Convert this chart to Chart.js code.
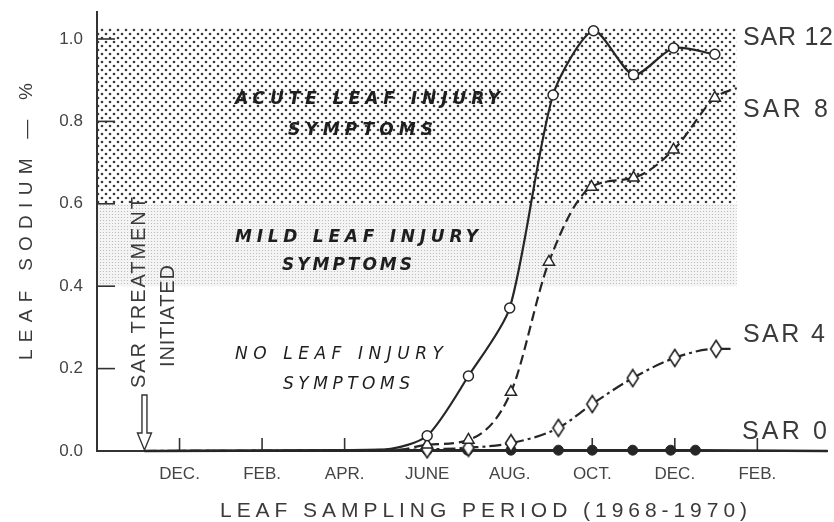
<!DOCTYPE html>
<html>
<head>
<meta charset="utf-8">
<script src="https://cdn.jsdelivr.net/npm/chart.js@4.4.1/dist/chart.umd.min.js"></script>
<style>
  html, body { margin: 0; padding: 0; background: #fff; }
  #wrap { width: 834px; height: 522px; position: relative; }
</style>
</head>
<body>
<div id="wrap"><canvas id="leafChart"></canvas></div>
<script>
// x = months counted from Dec. 1968 (0 = DEC., 12 = DEC. 1969)
var tickLabels = ['DEC.', 'FEB.', 'APR.', 'JUNE', 'AUG.', 'OCT.', 'DEC.', 'FEB.'];
var treatStart = -0.85;   // SAR treatment initiated

var sar12Months = [treatStart, 5, 6, 7, 8, 9.05, 10.03, 11, 11.97, 12.97];
var sar12Values = [0, 0.004, 0.037, 0.182, 0.347, 0.864, 1.02, 0.913, 0.978, 0.963];

var sar8Months = [treatStart, 5.3, 6, 7, 8.03, 8.95, 9.98, 11, 11.97, 12.97, 13.5];
var sar8Values = [0, 0.003, 0.015, 0.027, 0.143, 0.459, 0.641, 0.663, 0.731, 0.857, 0.881];

var sar4Months = [treatStart, 6, 7, 8.03, 9.18, 10, 10.98, 12, 13, 13.4];
var sar4Values = [0, 0.004, 0.008, 0.019, 0.056, 0.114, 0.177, 0.226, 0.248, 0.248];

var sar0Months = [treatStart, 6, 6.98, 8.03, 9.18, 10, 10.98, 11.9, 12.5, 15.7];
var sar0Values = [0, 0.002, 0.002, 0.002, 0.002, 0.002, 0.002, 0.002, 0.002, 0];

// injury bands (leaf sodium %)
var acuteBand = [0.6, 1.027];
var mildBand = [0.4, 0.6];
var bandEndMonth = 13.5;

function pts(ms, vs) {
  return ms.map(function (m, i) { return { x: m, y: vs[i] }; });
}

// marker only at real sampling dates
function markerSize(r) {
  return function (c) {
    var x = c.raw ? c.raw.x : null;
    return (x !== null && x >= 5.9 && x <= 13.1) ? r : 0;
  };
}

function makePattern(size, bg, dots, dotColor) {
  var c = document.createElement('canvas');
  c.width = size; c.height = size;
  var g = c.getContext('2d');
  g.fillStyle = bg; g.fillRect(0, 0, size, size);
  g.fillStyle = dotColor;
  dots.forEach(function (d) {
    g.beginPath(); g.arc(d[0], d[1], d[2], 0, Math.PI * 2); g.fill();
  });
  return g.createPattern(c, 'repeat');
}
var acutePattern = makePattern(8, '#ffffff', [[2, 2, 1.3], [6, 6, 1.3]], '#3a3a3a');
var mildPattern = makePattern(3, '#f4f4f4', [[1.5, 1.5, 0.6]], '#b4b4b4');

function diamondMarker() {
  var c = document.createElement('canvas');
  c.width = 14; c.height = 20;
  var g = c.getContext('2d');
  g.beginPath();
  g.moveTo(7, 1.5); g.lineTo(12.5, 10); g.lineTo(7, 18.5); g.lineTo(1.5, 10);
  g.closePath();
  g.fillStyle = '#fff'; g.fill();
  g.lineWidth = 1.6; g.strokeStyle = '#222'; g.stroke();
  return c;
}

function spaced(ctx, text, x, y, width, font, rot) {
  ctx.save();
  ctx.font = font;
  ctx.letterSpacing = '0px';
  var w0 = ctx.measureText(text).width;
  var ls = text.length > 1 ? (width - w0) / (text.length - 1) : 0;
  ctx.translate(x, y);
  if (rot) ctx.rotate(rot);
  ctx.letterSpacing = ls + 'px';
  ctx.textAlign = 'left';
  ctx.textBaseline = 'middle';
  ctx.fillText(text, 0, 0);
  ctx.restore();
}

var decor = {
  id: 'decor',
  beforeDatasetsDraw: function (chart) {
    var ctx = chart.ctx, xs = chart.scales.x, ys = chart.scales.y;
    var left = xs.left + 1, right = xs.getPixelForValue(bandEndMonth);
    ctx.save();
    var aTop = ys.getPixelForValue(acuteBand[1]), aBot = ys.getPixelForValue(acuteBand[0]);
    ctx.fillStyle = acutePattern;
    ctx.fillRect(left, aTop, right - left, aBot - aTop);
    var mTop = ys.getPixelForValue(mildBand[1]), mBot = ys.getPixelForValue(mildBand[0]);
    ctx.fillStyle = mildPattern;
    ctx.fillRect(left, mTop, right - left, mBot - mTop);

    // inside tick marks
    ctx.strokeStyle = '#333';
    ctx.lineWidth = 1.6;
    ys.ticks.forEach(function (t) {
      if (t.value <= 0) return;
      var y = ys.getPixelForValue(t.value);
      ctx.beginPath(); ctx.moveTo(xs.left, y); ctx.lineTo(xs.left + 18, y); ctx.stroke();
    });
    xs.ticks.forEach(function (t) {
      var x = xs.getPixelForValue(t.value);
      ctx.beginPath(); ctx.moveTo(x, ys.bottom); ctx.lineTo(x, ys.bottom - 13); ctx.stroke();
    });
    ctx.restore();
  },
  afterDraw: function (chart) {
    var ctx = chart.ctx, xs = chart.scales.x, ys = chart.scales.y;
    ctx.save();
    // arrow: SAR treatment initiated
    var ax = xs.getPixelForValue(treatStart), ab = ys.getPixelForValue(0);
    ctx.beginPath();
    ctx.moveTo(ax - 2.5, ab - 56); ctx.lineTo(ax + 2.5, ab - 56);
    ctx.lineTo(ax + 2.5, ab - 18); ctx.lineTo(ax + 7, ab - 18);
    ctx.lineTo(ax, ab - 1); ctx.lineTo(ax - 7, ab - 18);
    ctx.lineTo(ax - 2.5, ab - 18); ctx.closePath();
    ctx.fillStyle = '#fff'; ctx.fill();
    ctx.strokeStyle = '#333'; ctx.lineWidth = 1.4; ctx.stroke();

    ctx.fillStyle = '#3a3a3a';
    var sans = '"Liberation Sans", Arial, sans-serif';
    spaced(ctx, 'SAR TREATMENT', 139, 388, 191, '20px ' + sans, -Math.PI / 2);
    spaced(ctx, 'INITIATED', 168, 367, 102, '20px ' + sans, -Math.PI / 2);

    // axis titles
    spaced(ctx, 'LEAF SODIUM \u2014 %', 27, 360, 277, '19px ' + sans, -Math.PI / 2);
    spaced(ctx, 'LEAF SAMPLING PERIOD (1968-1970)', 220, 511, 527, '21px ' + sans, 0);

    // series labels
    spaced(ctx, 'SAR 12', 743, 38, 90, '25px ' + sans, 0);
    spaced(ctx, 'SAR 8', 743, 110, 85, '25px ' + sans, 0);
    spaced(ctx, 'SAR 4', 743, 335, 82, '25px ' + sans, 0);
    spaced(ctx, 'SAR 0', 742, 432, 85, '25px ' + sans, 0);

    // band annotations
    ctx.fillStyle = '#1e1e1e';
    var bi = 'italic bold 17px "DejaVu Sans", sans-serif';
    var ni = 'italic 17px "DejaVu Sans", sans-serif';
    spaced(ctx, 'ACUTE LEAF INJURY', 235, 100, 265, bi, 0);
    spaced(ctx, 'SYMPTOMS', 288, 131, 145, bi, 0);
    spaced(ctx, 'MILD LEAF INJURY', 235, 238, 243, bi, 0);
    spaced(ctx, 'SYMPTOMS', 282, 266, 130, bi, 0);
    spaced(ctx, 'NO LEAF INJURY', 235, 355, 208, ni, 0);
    spaced(ctx, 'SYMPTOMS', 283, 385, 127, ni, 0);
    ctx.restore();
  }
};

var ink = '#262626';
var ctx = document.getElementById('leafChart').getContext('2d');
var chart = new Chart(ctx, {
  type: 'line',
  data: {
    datasets: [{
      label: 'SAR 12',
      data: pts(sar12Months, sar12Values),
      borderColor: ink, borderWidth: 2.2,
      pointStyle: 'circle', pointRadius: markerSize(5),
      pointBackgroundColor: '#fff', pointBorderColor: ink, pointBorderWidth: 1.5,
      tension: 0.25, clip: false
    }, {
      label: 'SAR 8',
      data: pts(sar8Months, sar8Values),
      borderColor: ink, borderWidth: 2.2, borderDash: [10, 5],
      pointStyle: 'triangle', pointRadius: markerSize(6.5),
      pointBackgroundColor: '#fff', pointBorderColor: ink, pointBorderWidth: 1.5,
      cubicInterpolationMode: 'monotone', clip: false
    }, {
      label: 'SAR 4',
      data: pts(sar4Months, sar4Values),
      borderColor: ink, borderWidth: 2.2, borderDash: [12, 4, 3, 4],
      pointStyle: diamondMarker(), pointRadius: markerSize(6),
      cubicInterpolationMode: 'monotone', clip: false
    }, {
      label: 'SAR 0',
      data: pts(sar0Months, sar0Values),
      borderColor: ink, borderWidth: 2.6,
      pointStyle: 'circle', pointRadius: markerSize(5),
      pointBackgroundColor: ink, pointBorderColor: ink, pointBorderWidth: 1,
      tension: 0, clip: false
    }]
  },
  options: {
    responsive: true,
    maintainAspectRatio: false,
    animation: false,
    layout: { padding: { top: 12, right: 0, left: 0, bottom: 0 } },
    plugins: { legend: { display: false }, tooltip: { enabled: false } },
    scales: {
      x: {
        type: 'linear', min: -2, max: 15.7,
        grid: { display: false, drawTicks: false },
        border: { display: true, color: '#333', width: 2 },
        ticks: {
          stepSize: 2, padding: 13, color: '#444',
          font: { family: '"Liberation Sans", Arial, sans-serif', size: 17 },
          maxRotation: 0,
          callback: function (v) { return tickLabels[Math.round(v / 2)]; }
        },
        afterBuildTicks: function (s) {
          s.ticks = s.ticks.filter(function (t) { return t.value >= 0 && t.value <= 14; });
        },
        afterFit: function (s) { s.height = 71; s.paddingLeft = 0; s.paddingRight = 0; }
      },
      y: {
        min: 0, max: 1.0655,
        grid: { display: false, drawTicks: false },
        border: { display: true, color: '#333', width: 2 },
        ticks: {
          stepSize: 0.2, padding: 14, color: '#444',
          font: { family: '"Liberation Sans", Arial, sans-serif', size: 17 },
          callback: function (v) { return v.toFixed(1); }
        },
        afterBuildTicks: function (s) {
          s.ticks = s.ticks.filter(function (t) { return t.value <= 1.0001; });
        },
        afterFit: function (s) { s.width = 97; s.paddingTop = 0; s.paddingBottom = 0; }
      }
    }
  },
  plugins: [decor]
});
</script>
</body>
</html>
